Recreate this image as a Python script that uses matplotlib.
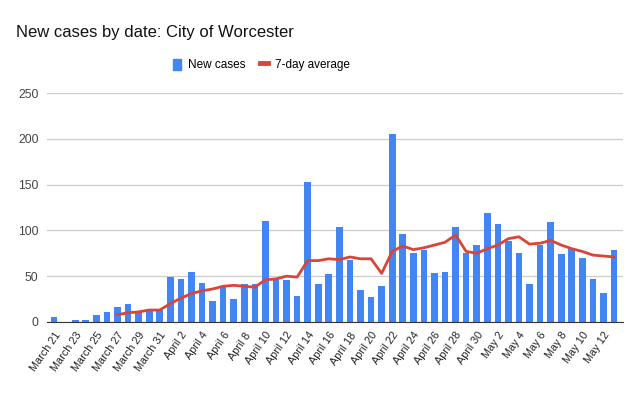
from matplotlib import pyplot as plt
from matplotlib.lines import Line2D
from matplotlib.patches import Patch
import numpy as np

# daily counts, March 21 - May 13
dates = (["March %d" % d for d in range(21, 32)]
         + ["April %d" % d for d in range(1, 31)]
         + ["May %d" % d for d in range(1, 14)])

new_cases = [5, 0, 2, 2, 8, 11, 16, 20, 11, 14, 13,
             49, 47, 55, 43, 23, 38, 25, 41, 41, 110,
             47, 46, 28, 153, 41, 52, 104, 68, 35, 27,
             39, 205, 96, 75, 79, 53, 55, 104, 75, 84,
             119, 107, 88, 75, 41, 84, 109, 74, 81, 70,
             47, 32, 79]

# 7-day average starts on March 27
avg_7day = [8, 10, 11, 13, 13,
            20, 26, 31, 34, 36, 39, 40, 39, 38, 46,
            47, 50, 49, 67, 67, 69, 68, 71, 69, 69,
            53, 77, 83, 79, 81, 84, 87, 95, 77, 75,
            80, 84, 91, 93, 85, 86, 89, 84, 80, 77,
            73, 72, 71]

yticks = [0, 50, 100, 150, 200, 250]

plt.rcParams['font.family'] = ['Liberation Sans', 'DejaVu Sans']

x = np.arange(len(dates))
fig = plt.figure(figsize=(6.41, 3.96), dpi=100)
ax = fig.add_axes([0.073, 0.187, 0.899, 0.578])

ax.bar(x, new_cases, width=0.63, color='#4285F4', zorder=2)
ax.plot(x[6:], avg_7day, color='#DB4437', lw=2, zorder=3)

ax.set_xlim(-0.69, len(dates) - 1 + 0.85)
ax.set_ylim(0, 250)
ax.set_yticks(yticks)
ax.set_xticks(x[::2])
ax.set_xticklabels(dates[::2], rotation=55, ha='right', rotation_mode='anchor', fontsize=7.8, color='#222222')
ax.tick_params(axis='y', labelsize=8.7, colors='#444444', length=0, pad=6)
ax.tick_params(axis='x', length=0, pad=6)
ax.grid(axis='y', color='#cccccc', lw=0.9, zorder=0)
for s in ['top', 'right', 'left']:
    ax.spines[s].set_visible(False)
ax.spines['bottom'].set_color('#333333')
ax.spines['bottom'].set_zorder(4)

fig.text(0.025, 0.918, "New cases by date: City of Worcester", fontsize=12, va='center', color='#111111')

handles = [Patch(color='#4285F4'), Line2D([], [], color='#DB4437', lw=3.5)]
fig.legend(handles, ['New cases', '7-day average'], loc='center', bbox_to_anchor=(0.408, 0.836),
           ncol=2, frameon=False, fontsize=8.5, handlelength=0.7, handleheight=1.1,
           columnspacing=1.2, handletextpad=0.6)

plt.savefig('out.png', dpi=100)
